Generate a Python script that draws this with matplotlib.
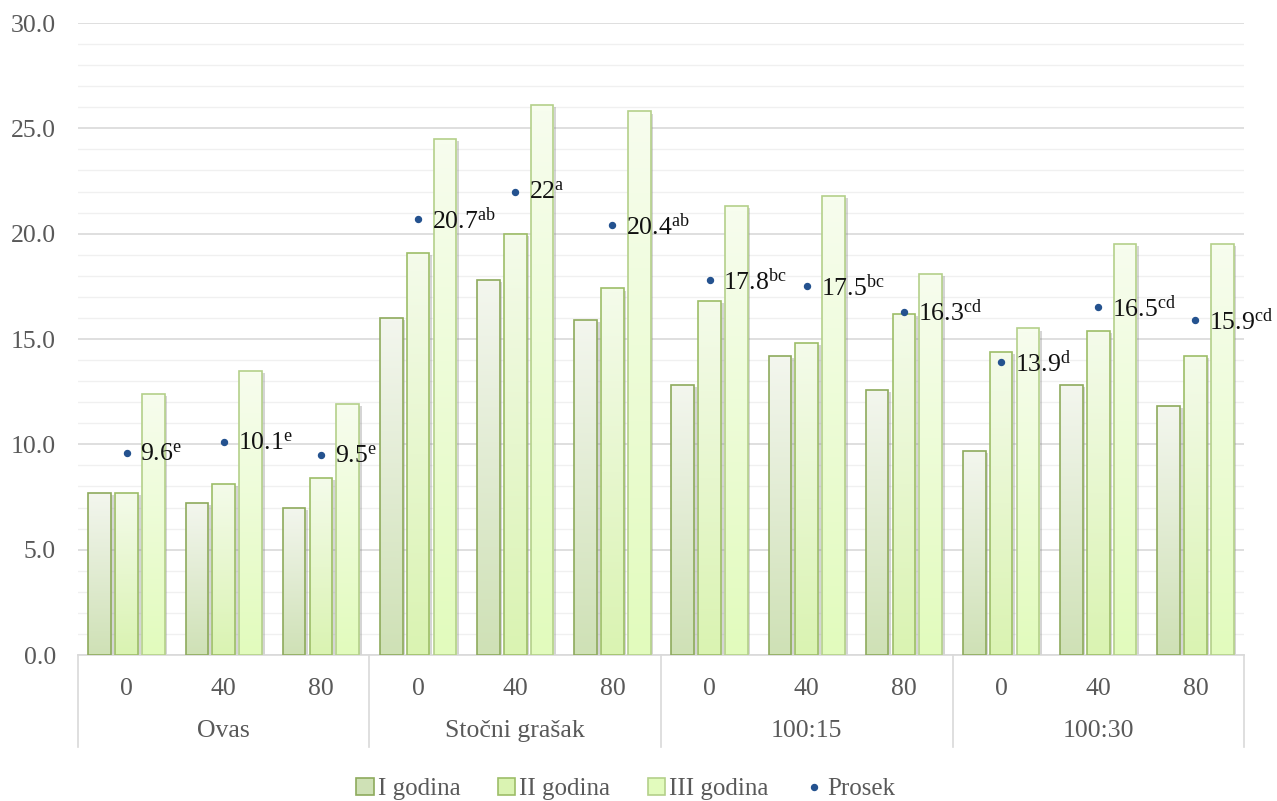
import matplotlib
matplotlib.use("Agg")
import matplotlib.pyplot as plt
import numpy as np
from matplotlib.colors import LinearSegmentedColormap
from matplotlib.patches import Patch
from matplotlib.lines import Line2D
from matplotlib import patheffects as pe
import matplotlib.transforms as mtransforms

# ---------------- data ----------------
groups = ['Ovas', 'Stočni grašak', '100:15', '100:30']
doses = ['0', '40', '80']
god1 = [7.7, 7.2, 7.0, 16.0, 17.8, 15.9, 12.8, 14.2, 12.6, 9.7, 12.8, 11.8]
god2 = [7.7, 8.1, 8.4, 19.1, 20.0, 17.4, 16.8, 14.8, 16.2, 14.4, 15.4, 14.2]
god3 = [12.4, 13.5, 11.9, 24.5, 26.1, 25.8, 21.3, 21.8, 18.1, 15.5, 19.5, 19.5]
prosek = [9.6, 10.1, 9.5, 20.7, 22, 20.4, 17.8, 17.5, 16.3, 13.9, 16.5, 15.9]
letters = ['e', 'e', 'e', 'ab', 'a', 'ab', 'bc', 'bc', 'cd', 'd', 'cd', 'cd']
series_names = ['I godina', 'II godina', 'III godina', 'Prosek']

# ---------------- style ----------------
plt.rcParams['font.family'] = ['Liberation Serif', 'DejaVu Serif']
plt.rcParams['mathtext.fontset'] = 'custom'
plt.rcParams['mathtext.rm'] = 'Liberation Serif'
plt.rcParams['mathtext.it'] = 'Liberation Serif'
plt.rcParams['mathtext.bf'] = 'Liberation Serif'

W, H = 1277, 801
fig = plt.figure(figsize=(W / 100, H / 100), dpi=100)
L, R, T, B = 78, 1244, 23, 655
ax = fig.add_axes([L / W, 1 - B / H, (R - L) / W, (B - T) / H])

n = len(god1)
x = np.arange(n)
bw = 0.232
off = 0.276

styles = [
    # top colour, bottom colour, edge colour
    ('#f3f6ee', '#cfe1b6', '#8eaa5c'),
    ('#f4fbea', '#daf3b2', '#9dbd68'),
    ('#f7fdee', '#e2fbbd', '#b4d08a'),
]
series = [god1, god2, god3]

for i, (vals, (ctop, cbot, cedge)) in enumerate(zip(series, styles)):
    pos = x + (i - 1) * off
    ax.bar(pos, vals, width=bw, color='white', edgecolor='none', zorder=2,
           path_effects=[pe.SimplePatchShadow(offset=(2, -1.5), shadow_rgbFace='#888888', alpha=0.35),
                         pe.Normal()])
    cmap = LinearSegmentedColormap.from_list('g%d' % i, [cbot, ctop])
    edge_bars = ax.bar(pos, vals, width=bw, facecolor='none', edgecolor=cedge,
                       linewidth=1.2, zorder=4)
    grad = np.linspace(0, 1, 64).reshape(-1, 1)
    for rect in edge_bars:
        x0 = rect.get_x()
        im = ax.imshow(grad, extent=(x0, x0 + rect.get_width(), 0, rect.get_height()),
                       origin='lower', cmap=cmap, aspect='auto', zorder=3,
                       interpolation='bilinear')
        im.set_clip_path(rect)

# averages
ax.plot(x, prosek, linestyle='none', marker='o', markersize=4.3,
        color='#24528f', zorder=6)
for xi, v, lt in zip(x, prosek, letters):
    ax.annotate(r'$\mathrm{%s}^{\mathrm{%s}}$' % ('{:g}'.format(v), lt),
                xy=(xi, v), xytext=(10, -1), textcoords='offset points',
                ha='left', va='center', fontsize=18.5, color='#111111',
                zorder=7, annotation_clip=False)

# axes
ax.set_xlim(-0.5, n - 0.5)
ax.set_ylim(0, 30)
ax.set_yticks(np.arange(0, 30.1, 5))
ax.set_yticks(np.arange(0, 30.1, 1), minor=True)
ax.set_yticklabels(['%.1f' % v for v in np.arange(0, 30.1, 5)])
ax.tick_params(axis='y', which='both', length=0, pad=16, labelsize=18.5, labelcolor='#595959')
ax.tick_params(axis='x', which='both', length=0, labelbottom=False)
ax.grid(axis='y', which='major', color='#d9d9d9', linewidth=1.2, zorder=0)
ax.grid(axis='y', which='minor', color='#f0f0f0', linewidth=1.0, zorder=0)
ax.set_axisbelow(True)
for s in ['top', 'right', 'left']:
    ax.spines[s].set_visible(False)
ax.spines['bottom'].set_color('#d9d9d9')
ax.spines['bottom'].set_linewidth(1.2)

# multi-level category axis
trans = mtransforms.blended_transform_factory(ax.transData, ax.transAxes)
ph = B - T
for xi in x:
    ax.text(xi, -34 / ph, doses[xi % 3], transform=trans, ha='center', va='center',
            fontsize=18.5, color='#595959')
for gi, g in enumerate(groups):
    ax.text(gi * 3 + 1, -76 / ph, g, transform=trans, ha='center', va='center',
            fontsize=18.5, color='#595959')
for gb in np.arange(-0.5, n, 3):
    ax.plot([gb, gb], [0, -92 / ph], transform=trans, color='#d9d9d9',
            linewidth=1.2, clip_on=False, zorder=1)

# legend
handles = [Patch(facecolor=s[1], edgecolor=s[2], linewidth=1.2) for s in styles]
handles.append(Line2D([], [], linestyle='none', marker='o', markersize=4.3, color='#24528f'))
leg = fig.legend(handles, series_names, loc='center', bbox_to_anchor=(0.49, 1 - 789 / H),
                 ncol=4, frameon=False, fontsize=18, handlelength=0.7, handleheight=0.7,
                 handletextpad=0.15, columnspacing=1.5, labelcolor='#595959')

fig.savefig('out.png', dpi=100)
